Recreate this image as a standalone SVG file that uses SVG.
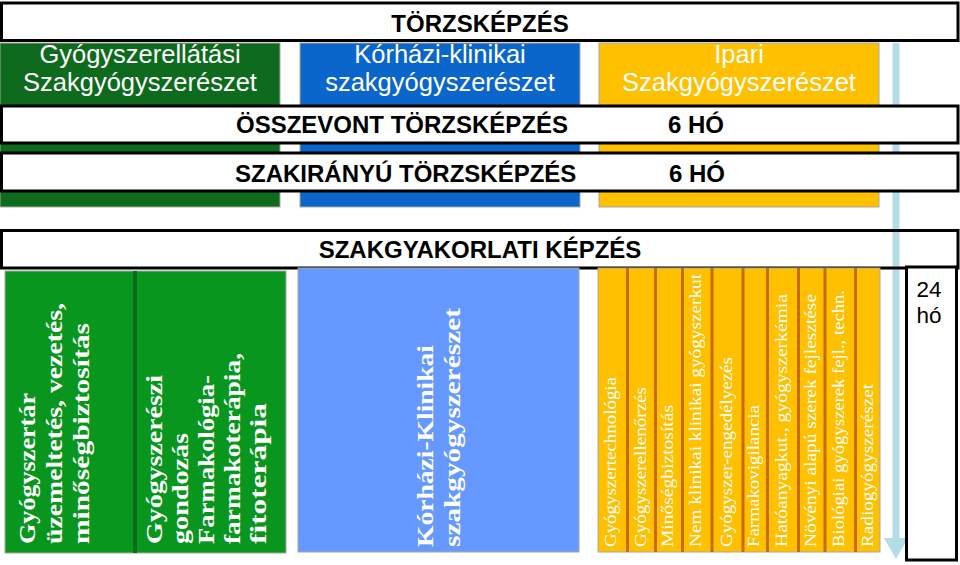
<svg xmlns="http://www.w3.org/2000/svg" width="960" height="565" viewBox="0 0 960 565">
<style>
.hdr{font-family:"Liberation Sans",Arial,sans-serif;font-size:25.5px;fill:#fff;text-anchor:middle}
.bx{fill:#fff;stroke:#000;stroke-width:3}
.bt{font-family:"Liberation Sans",Arial,sans-serif;font-size:24px;font-weight:bold;fill:#000}
.vb{font-family:"Liberation Serif","Times New Roman",serif;font-size:23.5px;font-weight:bold;fill:#fff}
.vy{font-family:"Liberation Serif","Times New Roman",serif;font-size:17.5px;fill:#fff}
.blk{stroke:#a8a8a0;stroke-width:1}
.div{fill:#c86a08}
</style>
<defs>
<marker id="ah" markerUnits="userSpaceOnUse" viewBox="0 0 21 24" markerWidth="21" markerHeight="24" refX="0" refY="12" orient="auto">
<path d="M0,0 L21,12 L0,24 z" fill="#b4dce4"/>
</marker>
</defs>

<g id="header-gyogyszerellatasi">
<rect x="0" y="43" width="280" height="164" fill="#0e6b1e" class="blk"/>
<text class="hdr" x="140" y="63">Gyógyszerellátási</text>
<text class="hdr" x="140" y="91">Szakgyógyszerészet</text>
</g>
<g id="header-korhazi">
<rect x="300" y="43" width="280" height="164" fill="#0b66cc" class="blk"/>
<text class="hdr" x="440" y="63">Kórházi-klinikai</text>
<text class="hdr" x="440" y="91">szakgyógyszerészet</text>
</g>
<g id="header-ipari">
<rect x="599" y="43" width="280" height="164" fill="#ffc000" class="blk"/>
<text class="hdr" x="739" y="63">Ipari</text>
<text class="hdr" x="739" y="91">Szakgyógyszerészet</text>
</g>

<g id="connectors">
<line x1="896" y1="43" x2="896" y2="538" stroke="#b4dce4" stroke-width="7" marker-end="url(#ah)"/>
</g>

<g id="torzskepzes">
<rect class="bx" x="1.5" y="3" width="956.5" height="37.5"/>
<text class="bt" x="480" y="32" text-anchor="middle">TÖRZSKÉPZÉS</text>
</g>
<g id="osszevont">
<rect class="bx" x="1.5" y="106" width="956.5" height="37"/>
<text class="bt" x="236" y="133">ÖSSZEVONT TÖRZSKÉPZÉS</text>
<text class="bt" x="668" y="133">6 HÓ</text>
</g>
<g id="szakiranyu">
<rect class="bx" x="1.5" y="153" width="956.5" height="38"/>
<text class="bt" x="235" y="181.5">SZAKIRÁNYÚ TÖRZSKÉPZÉS</text>
<text class="bt" x="669" y="181.5">6 HÓ</text>
</g>
<g id="szakgyakorlati">
<rect x="1.5" y="230.5" width="956.5" height="37.5" fill="none" stroke="#000" stroke-width="3"/>
<text class="bt" x="480" y="258" text-anchor="middle">SZAKGYAKORLATI KÉPZÉS</text>
</g>

<g id="green-modules">
<rect x="5" y="271" width="281" height="282" fill="#08961e" class="blk"/>
<rect x="133" y="271" width="4" height="282" fill="#0a6b1a"/>
<text class="vb" transform="translate(35,544) rotate(-90)" textLength="151" lengthAdjust="spacingAndGlyphs">Gyógyszertár</text>
<text class="vb" transform="translate(62,544) rotate(-90)" textLength="241" lengthAdjust="spacingAndGlyphs">üzemeltetés, vezetés,</text>
<text class="vb" transform="translate(89,544) rotate(-90)" textLength="221" lengthAdjust="spacingAndGlyphs">minőségbiztosítás</text>
<text class="vb" transform="translate(162,544) rotate(-90)" textLength="169" lengthAdjust="spacingAndGlyphs">Gyógyszerészi</text>
<text class="vb" transform="translate(188,544) rotate(-90)" textLength="111" lengthAdjust="spacingAndGlyphs">gondozás</text>
<text class="vb" transform="translate(214,544) rotate(-90)" textLength="169" lengthAdjust="spacingAndGlyphs">Farmakológia-</text>
<text class="vb" transform="translate(240,544) rotate(-90)" textLength="191" lengthAdjust="spacingAndGlyphs">farmakoterápia,</text>
<text class="vb" transform="translate(266,544) rotate(-90)" textLength="141" lengthAdjust="spacingAndGlyphs">fitoterápia</text>
</g>

<g id="blue-module">
<rect x="298" y="268" width="281" height="284" fill="#6699ff" class="blk"/>
<text class="vb" transform="translate(433,547) rotate(-90)" textLength="202" lengthAdjust="spacingAndGlyphs">Kórházi-Klinikai</text>
<text class="vb" transform="translate(460,547) rotate(-90)" textLength="239" lengthAdjust="spacingAndGlyphs">szakgyógyszerészet</text>
</g>

<g id="yellow-modules">
<rect x="598" y="268" width="282" height="284" fill="#ffc000" class="blk"/>
<rect class="div" x="626" y="268" width="3" height="284"/>
<rect class="div" x="654" y="268" width="3" height="284"/>
<rect class="div" x="681" y="268" width="3" height="284"/>
<rect class="div" x="710.5" y="268" width="3" height="284"/>
<rect class="div" x="741.5" y="268" width="3" height="284"/>
<rect class="div" x="766" y="268" width="3" height="284"/>
<rect class="div" x="797" y="268" width="3" height="284"/>
<rect class="div" x="823.5" y="268" width="3" height="284"/>
<rect class="div" x="854" y="268" width="3" height="284"/>
<text class="vy" transform="translate(616,547) rotate(-90)" textLength="170" lengthAdjust="spacingAndGlyphs">Gyógyszertechnológia</text>
<text class="vy" transform="translate(645.5,547) rotate(-90)" textLength="160" lengthAdjust="spacingAndGlyphs">Gyógyszerellenőrzés</text>
<text class="vy" transform="translate(673,547) rotate(-90)" textLength="142" lengthAdjust="spacingAndGlyphs">Minőségbiztosítás</text>
<text class="vy" transform="translate(701,547) rotate(-90)" textLength="273" lengthAdjust="spacingAndGlyphs">Nem klinikai klinikai gyógyszerkut</text>
<text class="vy" transform="translate(731.5,547) rotate(-90)" textLength="190" lengthAdjust="spacingAndGlyphs">Gyógyszer-engedélyezés</text>
<text class="vy" transform="translate(759,547) rotate(-90)" textLength="142" lengthAdjust="spacingAndGlyphs">Farmakovigilancia</text>
<text class="vy" transform="translate(787,547) rotate(-90)" textLength="253" lengthAdjust="spacingAndGlyphs">Hatóanyagkut.,  gyógyszerkémia</text>
<text class="vy" transform="translate(816,547) rotate(-90)" textLength="253" lengthAdjust="spacingAndGlyphs">Növényi alapú szerek fejlesztése</text>
<text class="vy" transform="translate(844,547) rotate(-90)" textLength="257" lengthAdjust="spacingAndGlyphs">Biológiai gyógyszerek fejl., techn.</text>
<text class="vy" transform="translate(872.5,547) rotate(-90)" textLength="163" lengthAdjust="spacingAndGlyphs">Radiogyógyszerészet</text>
</g>

<g id="duration-24">
<rect class="bx" x="906.5" y="267" width="50" height="293"/>
<text x="929" y="297" font-family="Liberation Sans,Arial,sans-serif" font-size="22.5" text-anchor="middle">24</text>
<text x="929" y="323" font-family="Liberation Sans,Arial,sans-serif" font-size="22.5" text-anchor="middle">hó</text>
</g>
</svg>
